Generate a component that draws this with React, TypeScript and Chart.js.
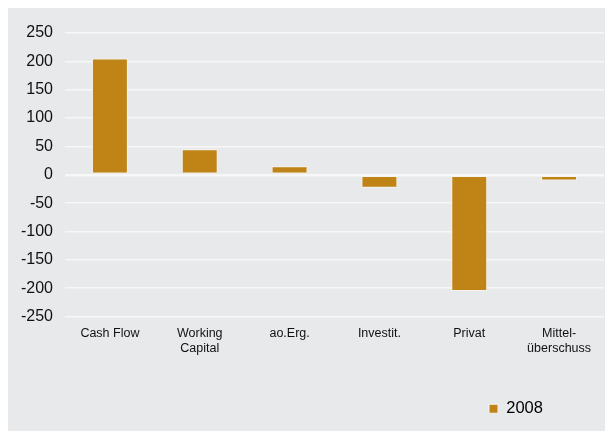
import React, { useEffect, useRef } from "react";
import { Chart, registerables } from "chart.js";

Chart.register(...registerables);

const categories: (string | string[])[] = [
  "Cash Flow",
  ["Working", "Capital"],
  "ao.Erg.",
  "Investit.",
  "Privat",
  ["Mittel-", "überschuss"],
];
const seriesLabel = "2008";
const values2008 = [205, 45, 15, -23, -205, -10];
const yMin = -250;
const yMax = 250;
const yStep = 50;

const BAR_COLOR = "#c08416";
const BG = "#e8e9eb";
const FONT = "'Liberation Sans', Arial, sans-serif";

const legendShift = {
  id: "legendShift",
  beforeDraw(chart: any) {
    const lg = chart.legend;
    if (lg) {
      const w = lg.right - lg.left;
      lg.left = 463;
      lg.right = 463 + w;
    }
  },
};

export default function App() {
  const ref = useRef<HTMLCanvasElement | null>(null);
  useEffect(() => {
    if (!ref.current) return;
    const chart = new Chart(ref.current, {
      type: "bar",
      data: {
        labels: categories,
        datasets: [
          {
            label: seriesLabel,
            data: values2008,
            backgroundColor: BAR_COLOR,
            borderColor: "#f6f4ee",
            borderWidth: 1,
            borderSkipped: false,
            categoryPercentage: 1,
            barPercentage: 0.4,
          },
        ],
      },
      plugins: [legendShift],
      options: {
        animation: false,
        responsive: false,
        maintainAspectRatio: false,
        layout: { padding: { top: 25, right: 1, bottom: 4, left: 0 } },
        plugins: {
          tooltip: { enabled: false },
          legend: {
            display: true,
            position: "bottom",
            align: "start",
            labels: {
              color: "#000",
              font: { family: FONT, size: 16.5 },
              boxWidth: 9,
              boxHeight: 9,
              padding: 18,
            },
          },
        },
        scales: {
          x: {
            grid: { display: false, drawTicks: false },
            border: { display: false },
            afterFit(scale: any) {
              scale.height += 16;
            },
            ticks: {
              color: "#111",
              font: { family: FONT, size: 12.5 },
              padding: 10,
              maxRotation: 0,
              autoSkip: false,
            },
          },
          y: {
            min: yMin,
            max: yMax,
            afterFit(scale: any) {
              scale.width = 57;
            },
            grid: {
              color: "#f7f7f7",
              lineWidth: (ctx: any) => (ctx.tick && ctx.tick.value === 0 ? 2.5 : 1.5),
              drawTicks: false,
            },
            border: { display: false },
            ticks: {
              stepSize: yStep,
              color: "#111",
              font: { family: FONT, size: 16 },
              padding: 12,
            },
          },
        },
      },
    } as any);
    return () => chart.destroy();
  }, []);
  return (
    <div style={{ position: "absolute", left: 8, top: 8, width: 597, height: 423, background: BG }}>
      <canvas ref={ref} width={597} height={423} style={{ display: "block" }} />
    </div>
  );
}
